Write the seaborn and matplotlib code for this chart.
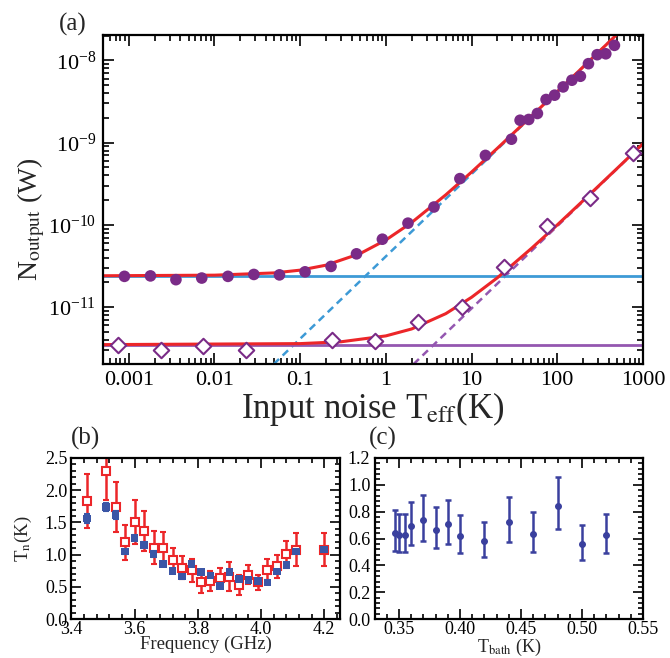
import numpy as np
import pandas as pd
import matplotlib
matplotlib.use("Agg")
import matplotlib.pyplot as plt
import seaborn as sns
from matplotlib.ticker import FixedLocator, AutoMinorLocator, LogLocator, NullFormatter, FormatStrFormatter

# ---------------- data: panel (a) ----------------
T_on = [8.9e-4, 1.79e-3, 3.55e-3, 7.1e-3, 0.01436, 0.0288, 0.0573, 0.114, 0.229, 0.454,
        0.91, 1.81, 3.64, 7.3, 14.5, 29.2, 36.8, 46.4, 58.6, 74, 93, 117, 148, 186,
        231, 292, 368, 464]
N_on = [2.37e-11, 2.40e-11, 2.16e-11, 2.26e-11, 2.37e-11, 2.50e-11, 2.47e-11, 2.69e-11,
        3.13e-11, 4.45e-11, 6.7e-11, 1.05e-10, 1.65e-10, 3.65e-10, 6.99e-10, 1.10e-9,
        1.87e-9, 1.91e-9, 2.26e-9, 3.34e-9, 3.77e-9, 4.75e-9, 5.73e-9, 6.4e-9, 9.1e-9,
        1.17e-8, 1.20e-8, 1.52e-8]
T_off = [7.4e-4, 2.37e-3, 7.4e-3, 0.0234, 0.237, 0.748, 2.37, 7.65, 23.7, 76.6, 239, 774]
N_off = [3.44e-12, 3.05e-12, 3.35e-12, 3.05e-12, 4.04e-12, 3.93e-12, 6.6e-12, 1.0e-11,
         3.04e-11, 9.7e-11, 2.14e-10, 7.5e-10]

fit_T_upper = [5e-4, 0.01, 0.05, 0.1, 0.2, 0.5, 1, 2, 5, 10, 20, 50, 100, 200, 500, 600]
fit_N_upper = [2.41e-11, 2.45e-11, 2.61e-11, 2.82e-11, 3.24e-11, 4.48e-11, 6.56e-11,
               1.07e-10, 2.32e-10, 4.39e-10, 8.54e-10, 2.1e-9, 4.17e-9, 8.3e-9, 2.08e-8, 2.5e-8]
fit_T_lower = [5e-4, 0.1, 0.3, 1, 2, 5, 10, 20, 50, 100, 200, 500, 1000]
fit_N_lower = [3.51e-12, 3.61e-12, 3.80e-12, 4.48e-12, 5.44e-12, 8.35e-12, 1.32e-11,
               2.28e-11, 5.19e-11, 1.0e-10, 1.97e-10, 4.87e-10, 9.7e-10]
floor_upper = 2.41e-11
floor_lower = 3.51e-12
dash_T_blue = [0.049, 500]
dash_N_blue = [2.03e-12, 2.08e-8]
dash_T_purple = [2.1, 1000]
dash_N_purple = [2.03e-12, 9.67e-10]

xticks_a = [0.001, 0.01, 0.1, 1, 10, 100, 1000]
xticklabels_a = ["0.001", "0.01", "0.1", "1", "10", "100", "1000"]

# ---------------- data: panel (b) ----------------
freq = [3.45, 3.51, 3.54, 3.57, 3.60, 3.63, 3.66, 3.69, 3.72, 3.75, 3.78, 3.81, 3.84,
        3.87, 3.90, 3.93, 3.96, 3.99, 4.02, 4.05, 4.08, 4.11, 4.20]
Tn_red = [1.83, 2.30, 1.74, 1.19, 1.51, 1.36, 1.11, 1.10, 0.91, 0.80, 0.76, 0.58, 0.59,
          0.64, 0.66, 0.53, 0.69, 0.57, 0.77, 0.82, 1.01, 1.08, 1.08]
err_red = [0.42, 0.45, 0.39, 0.27, 0.34, 0.31, 0.25, 0.25, 0.20, 0.18, 0.18, 0.17, 0.16,
           0.15, 0.22, 0.15, 0.15, 0.11, 0.17, 0.18, 0.21, 0.25, 0.25]
Tn_blue = [1.56, 1.74, 1.62, 1.05, 1.26, 1.15, 1.01, 0.86, 0.75, 0.66, 0.86, 0.73, 0.68,
           0.51, 0.73, 0.62, 0.61, 0.59, 0.57, 0.74, 0.84, 1.05, 1.08]
err_blue = [0.07, 0.06, 0.06, 0.04, 0.05, 0.04, 0.04, 0.03, 0.03, 0.03, 0.03, 0.03, 0.03,
            0.03, 0.03, 0.03, 0.03, 0.03, 0.03, 0.03, 0.03, 0.03, 0.03]

# ---------------- data: panel (c) ----------------
Tbath = [0.347, 0.350, 0.355, 0.36, 0.37, 0.38, 0.39, 0.40, 0.42, 0.44, 0.46, 0.48, 0.50, 0.52]
Tn_c = [0.64, 0.63, 0.625, 0.69, 0.737, 0.664, 0.705, 0.616, 0.58, 0.72, 0.633, 0.84, 0.558, 0.628]
c_low = [0.51, 0.50, 0.50, 0.55, 0.585, 0.527, 0.56, 0.49, 0.46, 0.572, 0.50, 0.67, 0.44, 0.495]
c_high = [0.81, 0.785, 0.785, 0.87, 0.923, 0.833, 0.886, 0.773, 0.725, 0.906, 0.797, 1.058, 0.70, 0.785]

# ---------------- style ----------------
sns.set_style("ticks")
plt.rcParams["font.family"] = ["Liberation Serif", "DejaVu Serif"]
plt.rcParams["mathtext.fontset"] = "stix"
plt.rcParams["axes.linewidth"] = 1.6

RED = "#ec2629"
PURPLE_M = "#7a2b87"
BLUE_L = "#3d9ad6"
PURPLE_L = "#9457b0"
BLUE_B = "#3b56a6"
BLUE_C = "#3a409e"

fig = plt.figure(figsize=(6.7, 6.58), dpi=100)

def style_ticks(ax, labelsize):
    ax.tick_params(which="both", direction="in", top=True, right=True, width=1.2, colors="black")
    ax.tick_params(which="major", length=8, labelsize=labelsize, pad=5)
    ax.tick_params(which="minor", length=4)
    for s in ax.spines.values():
        s.set_linewidth(1.6)
        s.set_color("black")

# ---------------- panel (a) ----------------
axa = fig.add_axes([0.1537, 0.4468, 0.806, 0.5])
axa.set_xscale("log")
axa.set_yscale("log")
axa.plot(dash_T_blue, dash_N_blue, ls=(0, (3, 2)), color=BLUE_L, lw=1.8, zorder=1)
axa.plot(dash_T_purple, dash_N_purple, ls=(0, (3, 2)), color=PURPLE_L, lw=1.8, zorder=1)
axa.axhline(floor_upper, color=BLUE_L, lw=2.0, zorder=1)
axa.axhline(floor_lower, color=PURPLE_L, lw=2.0, zorder=1)
sns.lineplot(x=fit_T_upper, y=fit_N_upper, ax=axa, color=RED, lw=2.2, zorder=2,
             estimator=None, sort=False)
sns.lineplot(x=fit_T_lower, y=fit_N_lower, ax=axa, color=RED, lw=2.2, zorder=2,
             estimator=None, sort=False)
sns.scatterplot(x=T_on, y=N_on, ax=axa, color=PURPLE_M, s=70, edgecolor="none", zorder=3)
sns.scatterplot(x=T_off, y=N_off, ax=axa, marker="D", s=62, facecolor="white",
                edgecolor=PURPLE_M, linewidth=1.5, zorder=3)
axa.set_xlim(5e-4, 1000)
axa.set_ylim(2.04e-12, 2.03e-8)
axa.xaxis.set_major_locator(FixedLocator(xticks_a))
axa.set_xticklabels(xticklabels_a)
axa.xaxis.set_minor_locator(LogLocator(base=10, subs=np.arange(2, 10)))
axa.xaxis.set_minor_formatter(NullFormatter())
axa.yaxis.set_major_locator(LogLocator(base=10, numticks=20))
axa.yaxis.set_minor_locator(LogLocator(base=10, subs=np.arange(2, 10), numticks=20))
axa.yaxis.set_minor_formatter(NullFormatter())
style_ticks(axa, 16)
axa.set_xlabel(r"Input noise T$_{\rm eff}$(K)", fontsize=25, labelpad=0)
axa.set_ylabel(r"N$_{\rm output}$ (W)", fontsize=20)
axa.yaxis.set_label_coords(-0.104, 0.44)
fig.text(0.108, 0.963, "(a)", fontsize=18, ha="center", va="center")

# ---------------- panel (b) ----------------
axb = fig.add_axes([0.1066, 0.059, 0.401, 0.245])
axb.errorbar(freq, Tn_red, yerr=err_red, fmt="s", ms=6, mfc="white", mec=RED, mew=1.5,
             ecolor=RED, elinewidth=1.8, capsize=2.5, capthick=1.8, zorder=2)
axb.errorbar(freq, Tn_blue, yerr=err_blue, fmt="none", ecolor=BLUE_B, elinewidth=1.8,
             capsize=2, capthick=1.5, zorder=3)
sns.scatterplot(x=freq, y=Tn_blue, ax=axb, marker="s", s=30, color=BLUE_B,
                edgecolor="none", zorder=4)
axb.set_xlim(3.4, 4.25)
axb.set_ylim(0.0, 2.5)
axb.set_xticks([3.4, 3.6, 3.8, 4.0, 4.2])
axb.set_yticks([0.0, 0.5, 1.0, 1.5, 2.0, 2.5])
axb.xaxis.set_major_formatter(FormatStrFormatter("%.1f"))
axb.yaxis.set_major_formatter(FormatStrFormatter("%.1f"))
axb.xaxis.set_minor_locator(AutoMinorLocator(5))
axb.yaxis.set_minor_locator(AutoMinorLocator(5))
style_ticks(axb, 13)
axb.tick_params(which="major", length=7, pad=1)
axb.tick_params(which="minor", length=3.5)
axb.tick_params(axis="y", which="major", pad=3)
axb.set_xlabel("Frequency (GHz)", fontsize=13.5, labelpad=-1)
axb.set_ylabel(r"T$_{\rm n}$(K)", fontsize=13.5)
axb.yaxis.set_label_coords(-0.14, 0.5)
fig.text(0.127, 0.333, "(b)", fontsize=18, ha="center", va="center")

# ---------------- panel (c) ----------------
axc = fig.add_axes([0.559, 0.059, 0.4007, 0.245])
yerr_c = [np.array(Tn_c) - np.array(c_low), np.array(c_high) - np.array(Tn_c)]
axc.errorbar(Tbath, Tn_c, yerr=yerr_c, fmt="o", ms=4, color=BLUE_C, ecolor=BLUE_C,
             elinewidth=1.8, capsize=2.5, capthick=1.8, zorder=2)
axc.set_xlim(0.33, 0.55)
axc.set_ylim(0.0, 1.2)
axc.set_xticks([0.35, 0.40, 0.45, 0.50, 0.55])
axc.set_yticks([0.0, 0.2, 0.4, 0.6, 0.8, 1.0, 1.2])
axc.xaxis.set_major_formatter(FormatStrFormatter("%.2f"))
axc.yaxis.set_major_formatter(FormatStrFormatter("%.1f"))
axc.xaxis.set_minor_locator(AutoMinorLocator(5))
axc.yaxis.set_minor_locator(AutoMinorLocator(5))
style_ticks(axc, 13)
axc.tick_params(which="major", length=7, pad=1)
axc.tick_params(which="minor", length=3.5)
axc.tick_params(axis="y", which="major", pad=3)
axc.set_xlabel(r"T$_{\rm bath}$ (K)", fontsize=13, labelpad=-0.5)
fig.text(0.572, 0.333, "(c)", fontsize=18, ha="center", va="center")

fig.savefig("out.png", dpi=100)
